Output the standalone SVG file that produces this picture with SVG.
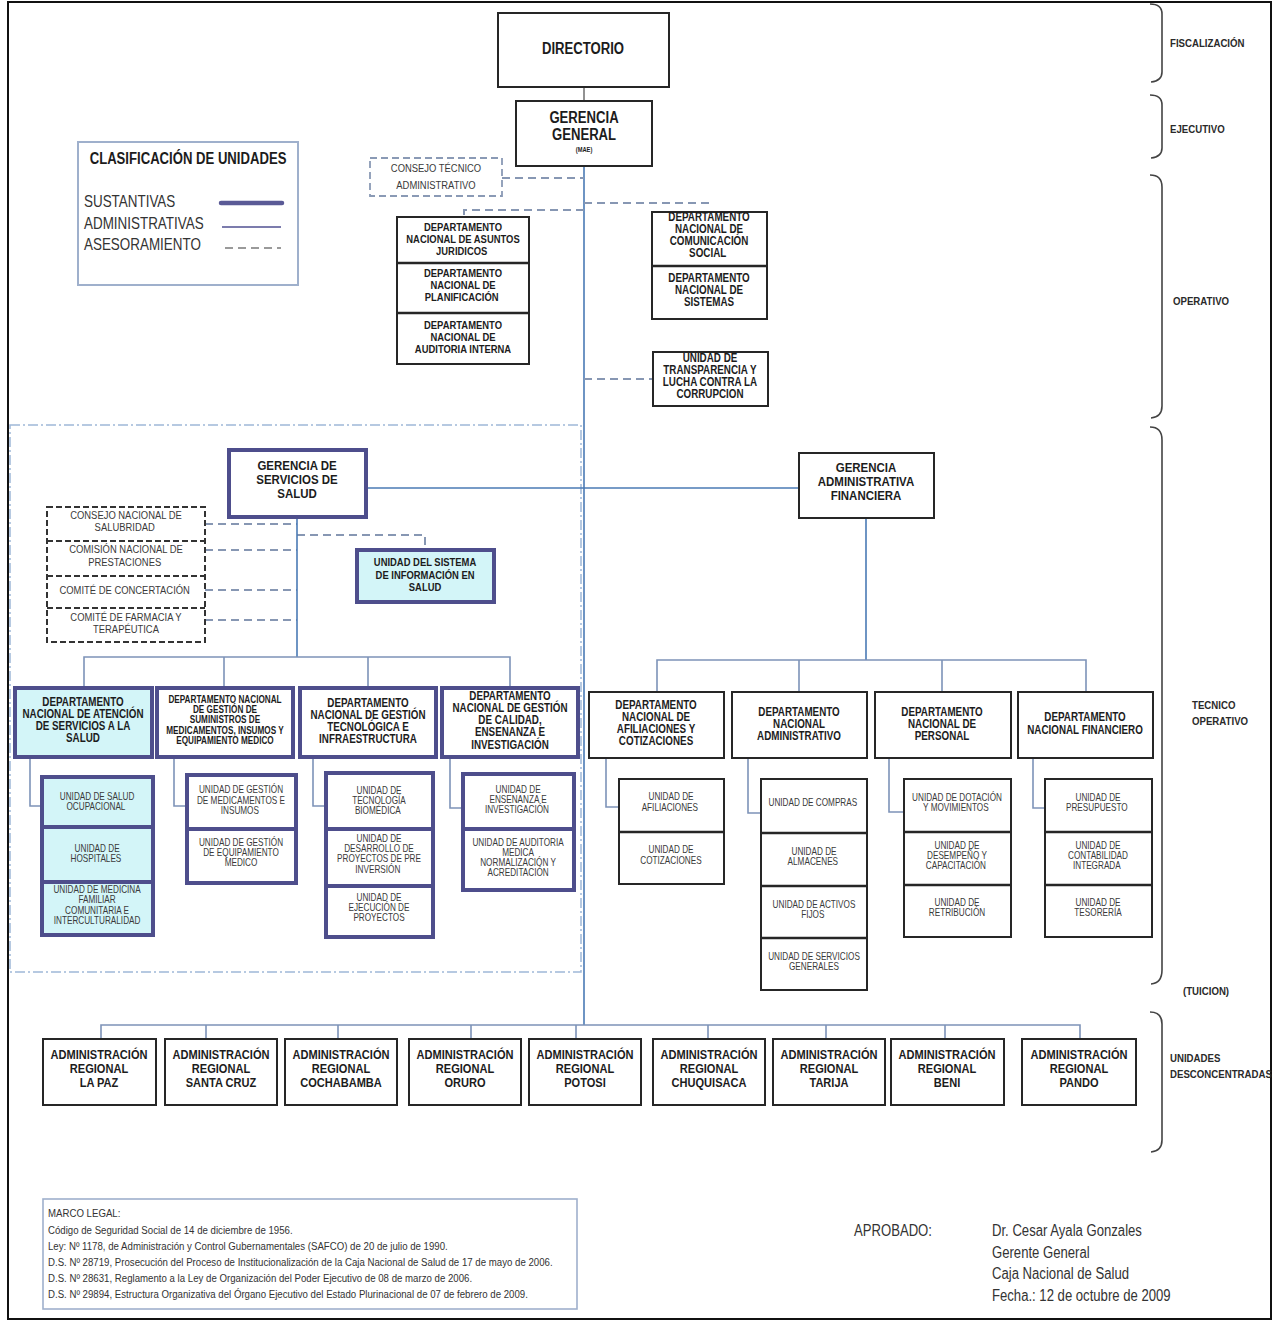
<svg xmlns="http://www.w3.org/2000/svg" width="1273" height="1322" viewBox="0 0 1273 1322">
<style>
text{font-family:"Liberation Sans",Arial,sans-serif;transform-box:fill-box}
.t{font-weight:bold;text-anchor:middle;fill:#1c1c1c;transform-origin:center;transform:scaleX(0.82)}
.u{text-anchor:middle;fill:#3a3a3a;transform-origin:center;transform:scaleX(0.82)}
.l{transform-origin:left center;transform:scaleX(0.84)}
.bx{fill:#fff;stroke:#262626;stroke-width:2}
.sb{fill:#fff;stroke:#4e4e8c;stroke-width:4}
.cy{fill:#d3f5f8}
.dv{stroke:#4e4e8c;stroke-width:4}
.dk{stroke:#262626;stroke-width:2.5}
.c{fill:none;stroke:#4a7ab5;stroke-width:1.6}
.c2{fill:none;stroke:#7d93b8;stroke-width:1.6}
.d{fill:none;stroke:#8797b3;stroke-width:2;stroke-dasharray:8 5}
.br{fill:none;stroke:#444;stroke-width:1.6}
.lb{font-weight:bold;fill:#2a2a2a;font-size:11.5px}
</style>

<rect x="8" y="2" width="1263" height="1317" fill="#fff" stroke="#111" stroke-width="2"/>

<!-- braces and level labels -->
<g id="levels">
<path class="br" d="M1150,4 Q1162,4 1162,14 V72 Q1162,81 1151,82"/>
<path class="br" d="M1150,95 Q1162,95 1162,105 V148 Q1162,157 1151,158"/>
<path class="br" d="M1150,175 Q1162,175 1162,187 V406 Q1162,417 1151,418"/>
<path class="br" d="M1150,427 Q1162,427 1162,440 V970 Q1162,983 1151,984"/>
<path class="br" d="M1150,1012 Q1162,1012 1162,1024 V1140 Q1162,1151 1151,1152"/>
<text class="lb l" x="1170" y="47">FISCALIZACIÓN</text>
<text class="lb l" x="1170" y="133">EJECUTIVO</text>
<text class="lb l" x="1173" y="305">OPERATIVO</text>
<text class="lb l" x="1192" y="709">TECNICO</text>
<text class="lb l" x="1192" y="725">OPERATIVO</text>
<text class="lb l" x="1183" y="995">(TUICION)</text>
<text class="lb l" x="1170" y="1062">UNIDADES</text>
<text class="lb l" x="1170" y="1078">DESCONCENTRADAS</text>
</g>

<!-- legend -->
<g id="leyenda">
<rect x="78" y="142" width="220" height="143" fill="#fff" stroke="#9fb0cc" stroke-width="2"/>
<text x="188" y="164" class="t" font-size="16">CLASIFICACIÓN DE UNIDADES</text>
<text class="l" x="84" y="207" font-size="16" fill="#333">SUSTANTIVAS</text>
<text class="l" x="84" y="229" font-size="16" fill="#333">ADMINISTRATIVAS</text>
<text class="l" x="84" y="250" font-size="16" fill="#333">ASESORAMIENTO</text>
<line x1="221" y1="203" x2="282" y2="203" stroke="#5a5a96" stroke-width="4.5" stroke-linecap="round"/>
<line x1="222" y1="227" x2="281" y2="227" stroke="#7c7cad" stroke-width="2"/>
<line x1="225" y1="248" x2="281" y2="248" stroke="#9a9a9a" stroke-width="2" stroke-dasharray="8 5"/>
</g>

<!-- region frame -->
<rect x="10" y="425" width="571" height="547" fill="none" stroke="#9fb8d8" stroke-width="1.5" stroke-dasharray="10 3 2 3"/>

<!-- connectors -->
<g id="connectors">
<line x1="584" y1="87" x2="584" y2="101" stroke="#777" stroke-width="1.6"/>
<line class="c" x1="584" y1="166" x2="584" y2="1025"/>
<path class="d" d="M502,178 H584"/>
<path class="d" d="M584,203 H712"/>
<path class="d" d="M584,210 H464 V217"/>
<path class="d" d="M584,379 H653"/>
<path class="c" d="M366,488 H799"/>
<path class="d" d="M205,524 H297"/>
<path class="d" d="M205,550 H297"/>
<path class="d" d="M205,590 H297"/>
<path class="d" d="M205,620 H297"/>
<path class="d" d="M297,535 H425 V550"/>
<path class="c" d="M297,517 V657"/>
<path class="c2" d="M84,688 V657 H510 V688 M224,657 V688 M368,657 V688"/>
<path class="c" d="M866,518 V660"/>
<path class="c2" d="M657,692 V660 H1086 V692 M799,660 V692 M942,660 V692"/>
<path class="c2" d="M30,757 V806 H42"/>
<path class="c2" d="M174,757 V806 H187"/>
<path class="c2" d="M313,757 V806 H326"/>
<path class="c2" d="M450,757 V808 H463"/>
<path class="c2" d="M606,758 V807 H619"/>
<path class="c2" d="M748,758 V813 H761"/>
<path class="c2" d="M889,758 V812 H904"/>
<path class="c2" d="M1033,758 V808 H1045"/>
<path class="c2" d="M101,1039 V1025 H1080 V1039 M206,1025 V1039 M338,1025 V1039 M471,1025 V1039 M576,1025 V1039 M708,1025 V1039 M826,1025 V1039 M945,1025 V1039"/>
</g>

<g id="directorio">
<rect x="498" y="13" width="171" height="74" class="bx" stroke-width="2.5"/>
<text x="583" y="54" class="t" font-size="16">DIRECTORIO</text>
</g>
<g id="gerencia-general">
<rect x="516" y="101" width="136" height="65" class="bx"/>
<text class="t" font-size="16"><tspan x="584" y="123">GERENCIA</tspan><tspan x="584" y="140">GENERAL</tspan><tspan x="584" y="152" font-size="7">(MAE)</tspan></text>
</g>
<g id="consejo-tecnico">
<rect x="370" y="158" width="132" height="38" fill="#fff" stroke="#8a9ab5" stroke-width="1.8" stroke-dasharray="7 4"/>
<text class="u" font-size="11.5"><tspan x="436" y="172">CONSEJO TÉCNICO</tspan><tspan x="436" y="189">ADMINISTRATIVO</tspan></text>
</g>
<g id="dptos-asesoria-izq">
<rect x="397" y="217" width="132" height="147" class="bx"/>
<line class="dk" x1="397" y1="263" x2="529" y2="263"/>
<line class="dk" x1="397" y1="313" x2="529" y2="313"/>
<text class="t" font-size="11.5"><tspan x="463" y="231">DEPARTAMENTO</tspan><tspan x="463" y="243">NACIONAL DE ASUNTOS</tspan><tspan x="463" y="255">JURIDICOS</tspan>
<tspan x="463" y="277">DEPARTAMENTO</tspan><tspan x="463" y="289">NACIONAL DE</tspan><tspan x="463" y="301">PLANIFICACIÓN</tspan>
<tspan x="463" y="329">DEPARTAMENTO</tspan><tspan x="463" y="341">NACIONAL DE</tspan><tspan x="463" y="353">AUDITORIA INTERNA</tspan></text>
</g>
<g id="dptos-asesoria-der">
<rect x="652" y="212" width="115" height="107" class="bx"/>
<line class="dk" x1="652" y1="266" x2="767" y2="266"/>
<text class="t" font-size="12"><tspan x="709" y="221">DEPARTAMENTO</tspan><tspan x="709" y="233">NACIONAL  DE</tspan><tspan x="709" y="245">COMUNICACIÓN</tspan><tspan x="709" y="257">SOCIAL</tspan>
<tspan x="709" y="282">DEPARTAMENTO</tspan><tspan x="709" y="294">NACIONAL DE</tspan><tspan x="709" y="306">SISTEMAS</tspan></text>
</g>
<g id="transparencia">
<rect x="653" y="352" width="115" height="54" class="bx"/>
<text class="t" font-size="12"><tspan x="710" y="362">UNIDAD  DE</tspan><tspan x="710" y="374">TRANSPARENCIA Y</tspan><tspan x="710" y="386">LUCHA CONTRA LA</tspan><tspan x="710" y="398">CORRUPCION</tspan></text>
</g>

<g id="gerencia-servicios-salud">
<rect x="229" y="450" width="137" height="67" class="sb"/>
<text class="t" font-size="13.5" style="transform:scaleX(0.85)"><tspan x="297" y="470">GERENCIA   DE</tspan><tspan x="297" y="484">SERVICIOS DE</tspan><tspan x="297" y="498">SALUD</tspan></text>
</g>
<g id="gerencia-adm-fin">
<rect x="799" y="453" width="135" height="65" class="bx"/>
<text class="t" font-size="13.5" style="transform:scaleX(0.85)"><tspan x="866" y="472">GERENCIA</tspan><tspan x="866" y="486">ADMINISTRATIVA</tspan><tspan x="866" y="500">FINANCIERA</tspan></text>
</g>
<g id="consejos-salud">
<rect x="47" y="507" width="158" height="135" fill="#fff" stroke="#333" stroke-width="2" stroke-dasharray="6 3"/>
<g stroke="#333" stroke-width="2.2" stroke-dasharray="6 3"><line x1="47" y1="541" x2="205" y2="541"/><line x1="47" y1="576" x2="205" y2="576"/><line x1="47" y1="608" x2="205" y2="608"/></g>
<text class="u" font-size="11.5"><tspan x="126" y="519">CONSEJO NACIONAL DE</tspan><tspan x="126" y="531">SALUBRIDAD</tspan>
<tspan x="126" y="553">COMISIÓN NACIONAL DE</tspan><tspan x="126" y="566">PRESTACIONES</tspan>
<tspan x="126" y="594">COMITÉ DE CONCERTACIÓN</tspan>
<tspan x="126" y="621">COMITÉ DE FARMACIA Y</tspan><tspan x="126" y="633">TERAPÉUTICA</tspan></text>
</g>
<g id="unidad-sistema-info">
<rect x="357" y="550" width="137" height="52" class="sb cy"/>
<text class="t" font-size="11.5"><tspan x="425" y="566">UNIDAD DEL SISTEMA</tspan><tspan x="425" y="579">DE INFORMACIÓN EN</tspan><tspan x="425" y="591">SALUD</tspan></text>
</g>

<!-- departamentos salud -->
<g id="dpto-atencion">
<rect x="15" y="688" width="137" height="69" class="sb cy"/>
<text class="t" font-size="12"><tspan x="83" y="706">DEPARTAMENTO</tspan><tspan x="83" y="718">NACIONAL DE ATENCIÓN</tspan><tspan x="83" y="730">DE SERVICIOS  A LA</tspan><tspan x="83" y="742">SALUD</tspan></text>
</g>
<g id="dpto-suministros">
<rect x="157" y="688" width="136" height="69" class="sb"/>
<text class="t" font-size="10"><tspan x="225" y="703">DEPARTAMENTO NACIONAL</tspan><tspan x="225" y="713">DE GESTIÓN DE</tspan><tspan x="225" y="723">SUMINISTROS DE</tspan><tspan x="225" y="734">MEDICAMENTOS, INSUMOS Y</tspan><tspan x="225" y="744">EQUIPAMIENTO MEDICO</tspan></text>
</g>
<g id="dpto-tecnologica">
<rect x="300" y="688" width="136" height="69" class="sb"/>
<text class="t" font-size="12"><tspan x="368" y="707">DEPARTAMENTO</tspan><tspan x="368" y="719">NACIONAL DE GESTIÓN</tspan><tspan x="368" y="731">TECNOLÓGICA E</tspan><tspan x="368" y="743">INFRAESTRUCTURA</tspan></text>
</g>
<g id="dpto-calidad">
<rect x="442" y="688" width="136" height="69" class="sb"/>
<text class="t" font-size="12"><tspan x="510" y="700">DEPARTAMENTO</tspan><tspan x="510" y="712">NACIONAL DE GESTIÓN</tspan><tspan x="510" y="724">DE CALIDAD,</tspan><tspan x="510" y="736">ENSENANZA E</tspan><tspan x="510" y="749">INVESTIGACIÓN</tspan></text>
</g>

<g id="unidades-atencion">
<rect x="42" y="777" width="111" height="158" class="sb cy"/>
<line class="dv" x1="42" y1="827" x2="153" y2="827"/><line class="dv" x1="42" y1="882" x2="153" y2="882"/>
<text class="u" font-size="10"><tspan x="97" y="800">UNIDAD DE SALUD</tspan><tspan x="97" y="810">OCUPACIONAL</tspan>
<tspan x="97" y="852">UNIDAD DE</tspan><tspan x="97" y="862">HOSPITALES</tspan>
<tspan x="97" y="893">UNIDAD DE MEDICINA</tspan><tspan x="97" y="903">FAMILIAR</tspan><tspan x="97" y="914">COMUNITARIA E</tspan><tspan x="97" y="924">INTERCULTURALIDAD</tspan></text>
</g>
<g id="unidades-suministros">
<rect x="187" y="775" width="109" height="108" class="sb"/>
<line class="dv" x1="187" y1="829" x2="296" y2="829"/>
<text class="u" font-size="10"><tspan x="241" y="793">UNIDAD DE GESTIÓN</tspan><tspan x="241" y="804">DE MEDICAMENTOS E</tspan><tspan x="241" y="814">INSUMOS</tspan>
<tspan x="241" y="846">UNIDAD DE GESTIÓN</tspan><tspan x="241" y="856">DE EQUIPAMIENTO</tspan><tspan x="241" y="866">MEDICO</tspan></text>
</g>
<g id="unidades-tecnologica">
<rect x="326" y="773" width="107" height="164" class="sb"/>
<line class="dv" x1="326" y1="829" x2="433" y2="829"/><line class="dv" x1="326" y1="886" x2="433" y2="886"/>
<text class="u" font-size="10"><tspan x="379" y="794">UNIDAD DE</tspan><tspan x="379" y="804">TECNOLOGÍA</tspan><tspan x="379" y="814">BIOMÉDICA</tspan>
<tspan x="379" y="842">UNIDAD DE</tspan><tspan x="379" y="852">DESARROLLO DE</tspan><tspan x="379" y="862">PROYECTOS DE PRE</tspan><tspan x="379" y="873">INVERSIÓN</tspan>
<tspan x="379" y="901">UNIDAD DE</tspan><tspan x="379" y="911">EJECUCIÓN DE</tspan><tspan x="379" y="921">PROYECTOS</tspan></text>
</g>
<g id="unidades-calidad">
<rect x="463" y="774" width="111" height="116" class="sb"/>
<line class="dv" x1="463" y1="829" x2="574" y2="829"/>
<text class="u" font-size="10"><tspan x="518" y="793">UNIDAD DE</tspan><tspan x="518" y="803">ENSENANZA E</tspan><tspan x="518" y="813">INVESTIGACIÓN</tspan>
<tspan x="518" y="846">UNIDAD DE AUDITORIA</tspan><tspan x="518" y="856">MEDICA</tspan><tspan x="518" y="866">NORMALIZACIÓN Y</tspan><tspan x="518" y="876">ACREDITACIÓN</tspan></text>
</g>

<!-- departamentos administrativos -->
<g id="dpto-afiliaciones">
<rect x="589" y="692" width="135" height="66" class="bx"/>
<text class="t" font-size="12"><tspan x="656" y="709">DEPARTAMENTO</tspan><tspan x="656" y="721">NACIONAL DE</tspan><tspan x="656" y="733">AFILIACIONES Y</tspan><tspan x="656" y="745">COTIZACIONES</tspan></text>
</g>
<g id="dpto-administrativo">
<rect x="732" y="692" width="135" height="66" class="bx"/>
<text class="t" font-size="12"><tspan x="799" y="716">DEPARTAMENTO</tspan><tspan x="799" y="728">NACIONAL</tspan><tspan x="799" y="740">ADMINISTRATIVO</tspan></text>
</g>
<g id="dpto-personal">
<rect x="875" y="692" width="136" height="66" class="bx"/>
<text class="t" font-size="12"><tspan x="942" y="716">DEPARTAMENTO</tspan><tspan x="942" y="728">NACIONAL DE</tspan><tspan x="942" y="740">PERSONAL</tspan></text>
</g>
<g id="dpto-financiero">
<rect x="1018" y="692" width="135" height="66" class="bx"/>
<text class="t" font-size="12"><tspan x="1085" y="721">DEPARTAMENTO</tspan><tspan x="1085" y="734">NACIONAL FINANCIERO</tspan></text>
</g>

<g id="unidades-afiliaciones">
<rect x="619" y="779" width="105" height="105" class="bx"/>
<line class="dk" x1="619" y1="832" x2="724" y2="832"/>
<text class="u" font-size="10"><tspan x="671" y="800">UNIDAD DE</tspan><tspan x="671" y="811">AFILIACIONES</tspan>
<tspan x="671" y="853">UNIDAD DE</tspan><tspan x="671" y="864">COTIZACIONES</tspan></text>
</g>
<g id="unidades-administrativo">
<rect x="761" y="779" width="106" height="211" class="bx"/>
<line class="dk" x1="761" y1="833" x2="867" y2="833"/><line class="dk" x1="761" y1="886" x2="867" y2="886"/><line class="dk" x1="761" y1="938" x2="867" y2="938"/>
<text class="u" font-size="10"><tspan x="814" y="806">UNIDAD DE COMPRAS</tspan>
<tspan x="814" y="855">UNIDAD DE</tspan><tspan x="814" y="865">ALMACENES</tspan>
<tspan x="814" y="908">UNIDAD DE ACTIVOS</tspan><tspan x="814" y="918">FIJOS</tspan>
<tspan x="814" y="960">UNIDAD DE SERVICIOS</tspan><tspan x="814" y="970">GENERALES</tspan></text>
</g>
<g id="unidades-personal">
<rect x="904" y="779" width="107" height="158" class="bx"/>
<line class="dk" x1="904" y1="832" x2="1011" y2="832"/><line class="dk" x1="904" y1="885" x2="1011" y2="885"/>
<text class="u" font-size="10"><tspan x="957" y="801">UNIDAD DE DOTACIÓN</tspan><tspan x="957" y="811">Y MOVIMIENTOS</tspan>
<tspan x="957" y="849">UNIDAD DE</tspan><tspan x="957" y="859">DESEMPEÑO Y</tspan><tspan x="957" y="869">CAPACITACIÓN</tspan>
<tspan x="957" y="906">UNIDAD DE</tspan><tspan x="957" y="916">RETRIBUCIÓN</tspan></text>
</g>
<g id="unidades-financiero">
<rect x="1045" y="779" width="107" height="158" class="bx"/>
<line class="dk" x1="1045" y1="832" x2="1152" y2="832"/><line class="dk" x1="1045" y1="885" x2="1152" y2="885"/>
<text class="u" font-size="10"><tspan x="1098" y="801">UNIDAD DE</tspan><tspan x="1098" y="811">PRESUPUESTO</tspan>
<tspan x="1098" y="849">UNIDAD DE</tspan><tspan x="1098" y="859">CONTABILIDAD</tspan><tspan x="1098" y="869">INTEGRADA</tspan>
<tspan x="1098" y="906">UNIDAD DE</tspan><tspan x="1098" y="916">TESORERÍA</tspan></text>
</g>

<!-- administraciones regionales -->
<g font-size="13.5">
<g id="ar-la-paz"><rect x="43" y="1039" width="113" height="66" class="bx"/><text class="t"><tspan x="99" y="1059">ADMINISTRACIÓN</tspan><tspan x="99" y="1073">REGIONAL</tspan><tspan x="99" y="1087">LA PAZ</tspan></text></g>
<g id="ar-santa-cruz"><rect x="165" y="1039" width="112" height="66" class="bx"/><text class="t"><tspan x="221" y="1059">ADMINISTRACIÓN</tspan><tspan x="221" y="1073">REGIONAL</tspan><tspan x="221" y="1087">SANTA CRUZ</tspan></text></g>
<g id="ar-cochabamba"><rect x="285" y="1039" width="112" height="66" class="bx"/><text class="t"><tspan x="341" y="1059">ADMINISTRACIÓN</tspan><tspan x="341" y="1073">REGIONAL</tspan><tspan x="341" y="1087">COCHABAMBA</tspan></text></g>
<g id="ar-oruro"><rect x="409" y="1039" width="112" height="66" class="bx"/><text class="t"><tspan x="465" y="1059">ADMINISTRACIÓN</tspan><tspan x="465" y="1073">REGIONAL</tspan><tspan x="465" y="1087">ORURO</tspan></text></g>
<g id="ar-potosi"><rect x="529" y="1039" width="112" height="66" class="bx"/><text class="t"><tspan x="585" y="1059">ADMINISTRACIÓN</tspan><tspan x="585" y="1073">REGIONAL</tspan><tspan x="585" y="1087">POTOSI</tspan></text></g>
<g id="ar-chuquisaca"><rect x="653" y="1039" width="112" height="66" class="bx"/><text class="t"><tspan x="709" y="1059">ADMINISTRACIÓN</tspan><tspan x="709" y="1073">REGIONAL</tspan><tspan x="709" y="1087">CHUQUISACA</tspan></text></g>
<g id="ar-tarija"><rect x="773" y="1039" width="112" height="66" class="bx"/><text class="t"><tspan x="829" y="1059">ADMINISTRACIÓN</tspan><tspan x="829" y="1073">REGIONAL</tspan><tspan x="829" y="1087">TARIJA</tspan></text></g>
<g id="ar-beni"><rect x="891" y="1039" width="113" height="66" class="bx"/><text class="t"><tspan x="947" y="1059">ADMINISTRACIÓN</tspan><tspan x="947" y="1073">REGIONAL</tspan><tspan x="947" y="1087">BENI</tspan></text></g>
<g id="ar-pando"><rect x="1022" y="1039" width="114" height="66" class="bx"/><text class="t"><tspan x="1079" y="1059">ADMINISTRACIÓN</tspan><tspan x="1079" y="1073">REGIONAL</tspan><tspan x="1079" y="1087">PANDO</tspan></text></g>
</g>

<!-- marco legal -->
<g id="marco-legal">
<rect x="43" y="1199" width="534" height="110" fill="#fff" stroke="#9fb0cc" stroke-width="1.6"/>
<text class="l" font-size="11.5" fill="#333"><tspan x="48" y="1217">MARCO LEGAL:</tspan>
<tspan x="48" y="1234">Código de Seguridad Social de 14 de diciembre de 1956.</tspan>
<tspan x="48" y="1250">Ley: Nº 1178, de Administración y Control Gubernamentales (SAFCO) de 20 de julio de 1990.</tspan>
<tspan x="48" y="1266">D.S. Nº 28719, Prosecución del Proceso de Institucionalización de la Caja Nacional de Salud de 17 de mayo de 2006.</tspan>
<tspan x="48" y="1282">D.S. Nº 28631, Reglamento a la Ley de Organización del Poder Ejecutivo de 08 de marzo de 2006.</tspan>
<tspan x="48" y="1298">D.S. Nº 29894, Estructura Organizativa del Órgano Ejecutivo del Estado Plurinacional de 07 de febrero de 2009.</tspan></text>
</g>

<g id="aprobado">
<text class="l" x="854" y="1236" font-size="16" fill="#333" style="transform:scaleX(0.82)">APROBADO:</text>
<text class="l" font-size="16" fill="#333" style="transform:scaleX(0.82)"><tspan x="992" y="1236">Dr. Cesar Ayala Gonzales</tspan>
<tspan x="992" y="1258">Gerente General</tspan>
<tspan x="992" y="1279">Caja Nacional de Salud</tspan>
<tspan x="992" y="1301">Fecha.:  12 de octubre de 2009</tspan></text>
</g>
</svg>
